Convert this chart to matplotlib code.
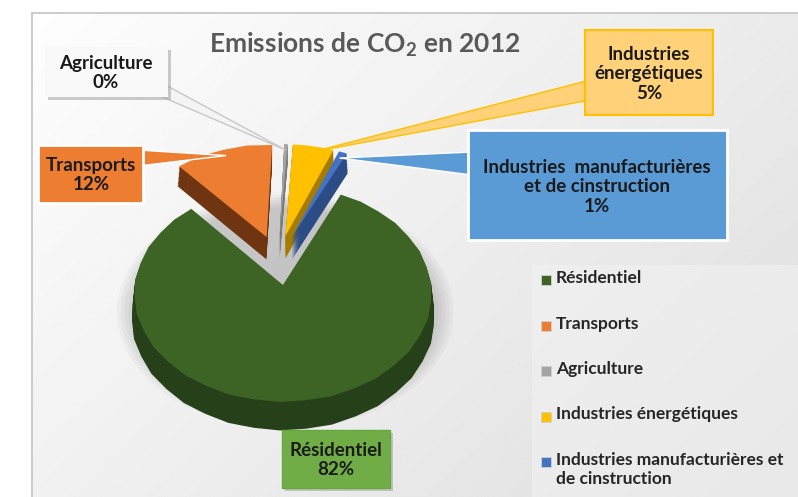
import numpy as np
import matplotlib.pyplot as plt
from matplotlib.patches import Rectangle, Polygon, Ellipse, Wedge

plt.rcParams['font.family'] = ['Lato', 'DejaVu Sans']
plt.rcParams['mathtext.fontset'] = 'custom'
plt.rcParams['mathtext.rm'] = 'Lato:bold'

categories = ['Résidentiel', 'Transports', 'Agriculture',
              'Industries énergétiques',
              'Industries manufacturières et de cinstruction']
values = [82, 12, 0.4, 5, 1]
explode = [0.24, 0.24, 0.24, 0.24, 0.24]
top_colors = ['#3d6424', '#ed7d31', '#a5a5a5', '#ffc000', '#4472c4']
side_colors = ['#26401a', '#6e3510', '#7a7a7a', '#a67c00', '#2c4c86']

W, H = 798, 497
fig = plt.figure(figsize=(W / 100, H / 100), dpi=100)


def fx(px):
    return px / W


def fy(py):
    return 1 - py / H


# chart area background with a soft grey gradient
bg = fig.add_axes([fx(32), 0, 1 - fx(32), fy(13)])
xx, yy = np.meshgrid(np.linspace(0, 1, 300), np.linspace(0, 1, 200))
grad = 0.995 - 0.075 * xx - 0.05 * yy
bg.imshow(grad, cmap='gray', vmin=0, vmax=1, aspect='auto', extent=[0, 1, 1, 0])
bg.axis('off')
fig.add_artist(plt.Line2D([fx(32), fx(32)], [0, fy(13)], color='#c4c4c4', lw=1.2))
fig.add_artist(plt.Line2D([fx(32), 1], [fy(13), fy(13)], color='#c4c4c4', lw=1.2))

# pie axes, stretched so the pie looks tilted
ax = fig.add_axes([fx(46), fy(445.4), fx(510 - 46), (445.4 - 95.2) / H])

# soft shadow under the pie
for s in np.linspace(1.03, 1.16, 6):
    ax.add_patch(Ellipse((0.05, -0.5), 2 * s, 2 * s * 0.98, color='k', alpha=0.03, lw=0))

# extruded sides: stack darker copies below the top face
depth = 0.22
for d in np.linspace(depth, 0.01, 16):
    ax.pie(values, explode=explode, startangle=65, counterclock=False,
           colors=side_colors, center=(0, -d), wedgeprops=dict(linewidth=0))
wedges, _ = ax.pie(values, explode=explode, startangle=65, counterclock=False,
                   colors=top_colors, wedgeprops=dict(linewidth=0))

# simple perspective: the far side of the pie shrinks a little
P = 0.08


def persp(xy):
    xy = np.atleast_2d(xy)
    k = 1 / (1 + P * xy[:, 1])
    return xy * k[:, None]


for w in [p for p in ax.patches if isinstance(p, Wedge)]:
    verts = persp(w.get_path().to_polygons()[0])
    ax.add_patch(Polygon(verts, closed=True, facecolor=w.get_facecolor(), lw=0))
    w.remove()

ax.set_aspect('auto')
ax.set_xlim(-1.6, 1.6)
ax.set_ylim(-1.8, 1.6)
ax.axis('off')

fig.text(fx(365), fy(45), r'Emissions de CO$_{2}$ en 2012', ha='center', va='center',
         fontsize=19, fontweight='bold', color='#595959')

total = sum(values)
pct = [f"{v / total * 100:.0f}%" for v in values]


def tip_of(w, frac=0.93):
    mid = np.deg2rad((w.theta1 + w.theta2) / 2)
    cx, cy = w.center
    pt = persp((cx + frac * w.r * np.cos(mid), cy + frac * w.r * np.sin(mid)))[0]
    return fig.transFigure.inverted().transform(ax.transData.transform(pt))


def box(x0, y0, x1, y1, face, edge, lw, shadow=False):
    if shadow:
        fig.patches.append(Rectangle((fx(x0 + 3), fy(y1 + 3)), fx(x1 - x0), (y1 - y0) / H,
                                     transform=fig.transFigure, facecolor='#9a9a9a',
                                     alpha=0.5, lw=0))
    fig.patches.append(Rectangle((fx(x0), fy(y1)), fx(x1 - x0), (y1 - y0) / H,
                                 transform=fig.transFigure, facecolor=face,
                                 edgecolor=edge, lw=lw))


def pointer(base1, base2, tip, face, edge):
    fig.patches.append(Polygon([(fx(base1[0]), fy(base1[1])), (fx(base2[0]), fy(base2[1])), tip],
                               closed=True, transform=fig.transFigure,
                               facecolor=face, edgecolor=edge, lw=1))


lab_kw = dict(ha='center', va='center', fontsize=13.5, fontweight='bold',
              color='#1a1a1a', linespacing=1.2)

# Agriculture
pointer((160, 82), (160, 96), tip_of(wedges[2]), '#f4f4f4', '#c8c8c8')
box(45, 47, 168, 97, '#f9f9f9', '#f9f9f9', 0, shadow=True)
fig.text(fx(106), fy(73), f"{categories[2]}\n{pct[2]}", **lab_kw)

# Transports
pointer((138, 150), (138, 166), tip_of(wedges[1]), top_colors[1], 'white')
box(38, 145, 143, 203, top_colors[1], 'white', 2)
fig.text(fx(91), fy(175), f"{categories[1]}\n{pct[1]}", **lab_kw)

# Industries énergétiques
pointer((590, 80), (590, 100), tip_of(wedges[3]), '#ffd27a', '#ffc000')
box(585, 30, 713, 115, '#ffd27a', '#ffc000', 1.5)
fig.text(fx(649), fy(74), f"Industries\nénergétiques\n{pct[3]}", **lab_kw)

# Industries manufacturières
pointer((472, 152), (472, 175), tip_of(wedges[4]), '#5b9bd5', 'white')
box(468, 130, 727, 240, '#5b9bd5', 'white', 2)
fig.text(fx(597), fy(187), f"Industries  manufacturières\net de cinstruction\n{pct[4]}", **lab_kw)

# Résidentiel
box(282, 430, 390, 488, '#70ad47', '#66a83e', 1, shadow=True)
fig.text(fx(336), fy(460), f"{categories[0]}\n{pct[0]}", **lab_kw)

# legend
fig.patches.append(Rectangle((fx(532), 0), 1 - fx(532), (497 - 265) / H,
                             transform=fig.transFigure, facecolor='#f3f3f3',
                             alpha=0.5, lw=0))
leg_labels = categories[:4] + ['Industries manufacturières et\nde cinstruction']
for i, (c, lab) in enumerate(zip(top_colors, leg_labels)):
    y = 280 + 45.5 * i
    fig.patches.append(Rectangle((fx(541), fy(y + 5)), fx(10), 10 / H,
                                 transform=fig.transFigure, facecolor=c,
                                 edgecolor='#d0d0d0', lw=0.6))
    fig.text(fx(556), fy(y - 10), lab, ha='left', va='top', fontsize=12.5,
             fontweight='bold', color='#262626', linespacing=1.2)

fig.savefig('out.png', dpi=100)
